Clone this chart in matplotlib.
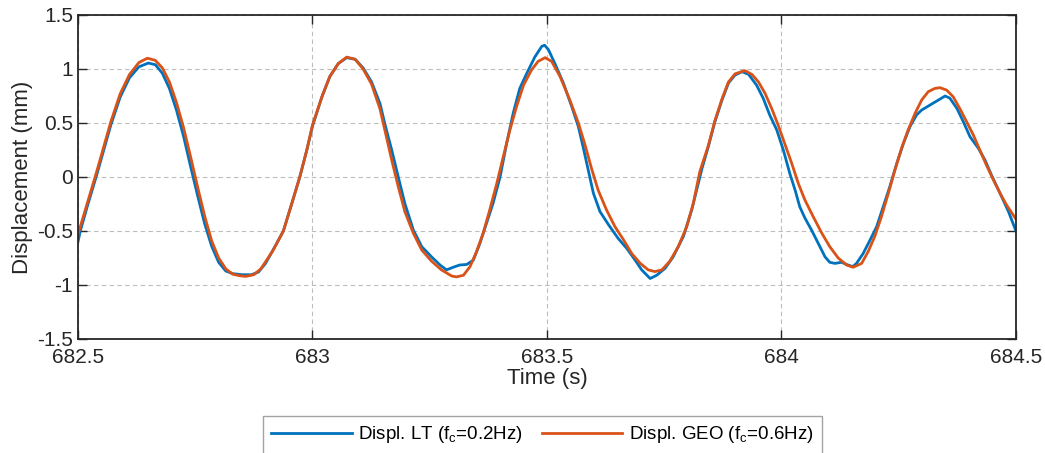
import numpy as np
import matplotlib.pyplot as plt

plt.rcParams['font.family'] = ['Liberation Sans', 'DejaVu Sans']
plt.rcParams['mathtext.fontset'] = 'custom'
plt.rcParams['mathtext.rm'] = 'Liberation Sans'
plt.rcParams['mathtext.it'] = 'Liberation Sans'
plt.rcParams['axes.unicode_minus'] = False

# Displacement from the LT sensor (low-pass fc = 0.2 Hz)
t_lt = [682.500, 682.505, 682.520, 682.540, 682.555, 682.570, 682.590, 682.610, 682.630, 682.650,
        682.665, 682.680, 682.695, 682.710, 682.725, 682.740, 682.755, 682.770, 682.785, 682.800,
        682.815, 682.830, 682.850, 682.870, 682.885, 682.900, 682.916, 682.938, 682.956, 682.973,
        682.988, 683.000, 683.020, 683.037, 683.055, 683.073, 683.091, 683.108, 683.126, 683.144,
        683.155, 683.169, 683.183, 683.197, 683.215, 683.233, 683.254, 683.272, 683.286, 683.300,
        683.314, 683.329, 683.343, 683.357, 683.371, 683.385, 683.400, 683.414, 683.428, 683.442,
        683.457, 683.474, 683.489, 683.495, 683.503, 683.517, 683.535, 683.553, 683.567, 683.577,
        683.588, 683.599, 683.613, 683.631, 683.652, 683.670, 683.688, 683.702, 683.720, 683.734,
        683.752, 683.769, 683.791, 683.809, 683.818, 683.830, 683.844, 683.858, 683.873, 683.887,
        683.901, 683.916, 683.930, 683.947, 683.961, 683.975, 683.990, 684.004, 684.018, 684.029,
        684.039, 684.050, 684.064, 684.078, 684.093, 684.103, 684.114, 684.128, 684.142, 684.152,
        684.160, 684.174, 684.189, 684.203, 684.217, 684.231, 684.246, 684.260, 684.274, 684.288,
        684.299, 684.317, 684.335, 684.349, 684.359, 684.374, 684.388, 684.402, 684.420, 684.434,
        684.448, 684.466, 684.484, 684.500]
d_lt = [-0.60, -0.50, -0.27, 0.02, 0.25, 0.48, 0.74, 0.92, 1.02, 1.055,
        1.04, 0.96, 0.82, 0.62, 0.38, 0.10, -0.17, -0.43, -0.64, -0.79,
        -0.87, -0.895, -0.905, -0.905, -0.88, -0.80, -0.676, -0.50, -0.245, 0.00,
        0.25, 0.47, 0.74, 0.93, 1.05, 1.105, 1.09, 1.01, 0.88, 0.68,
        0.48, 0.25, 0.00, -0.245, -0.49, -0.645, -0.74, -0.815, -0.86, -0.836,
        -0.815, -0.81, -0.77, -0.615, -0.43, -0.245, 0.00, 0.31, 0.59, 0.82,
        0.96, 1.11, 1.21, 1.22, 1.18, 1.05, 0.87, 0.65, 0.466, 0.28,
        0.065, -0.15, -0.32, -0.44, -0.57, -0.66, -0.77, -0.86, -0.94, -0.91,
        -0.845, -0.74, -0.55, -0.30, -0.14, 0.07, 0.28, 0.51, 0.71, 0.87,
        0.944, 0.975, 0.95, 0.85, 0.73, 0.574, 0.435, 0.25, 0.03, -0.12,
        -0.275, -0.38, -0.49, -0.61, -0.74, -0.79, -0.80, -0.79, -0.815, -0.83,
        -0.80, -0.71, -0.583, -0.46, -0.275, -0.09, 0.127, 0.31, 0.466, 0.574,
        0.62, 0.667, 0.713, 0.75, 0.73, 0.636, 0.51, 0.373, 0.265, 0.157,
        0.016, -0.15, -0.32, -0.50]

# Displacement from the geophone (low-pass fc = 0.6 Hz)
t_geo = [682.500, 682.505, 682.520, 682.540, 682.555, 682.570, 682.590, 682.610, 682.630, 682.648,
         682.665, 682.680, 682.695, 682.710, 682.725, 682.740, 682.755, 682.770, 682.785, 682.800,
         682.815, 682.830, 682.845, 682.858, 682.875, 682.890, 682.916, 682.938, 682.956, 682.973,
         682.988, 683.000, 683.020, 683.037, 683.055, 683.073, 683.091, 683.108, 683.126, 683.144,
         683.155, 683.169, 683.183, 683.197, 683.215, 683.233, 683.254, 683.275, 683.297, 683.307,
         683.322, 683.336, 683.350, 683.364, 683.378, 683.393, 683.407, 683.421, 683.435, 683.450,
         683.467, 683.481, 683.496, 683.510, 683.528, 683.549, 683.567, 683.581, 683.595, 683.609,
         683.627, 683.645, 683.663, 683.681, 683.699, 683.716, 683.730, 683.745, 683.762, 683.780,
         683.798, 683.812, 683.826, 683.844, 683.858, 683.873, 683.887, 683.901, 683.922, 683.937,
         683.951, 683.965, 683.979, 683.993, 684.007, 684.022, 684.036, 684.050, 684.068, 684.086,
         684.103, 684.121, 684.139, 684.153, 684.171, 684.185, 684.199, 684.213, 684.228, 684.242,
         684.256, 684.270, 684.285, 684.299, 684.313, 684.327, 684.338, 684.352, 684.366, 684.380,
         684.395, 684.409, 684.423, 684.437, 684.452, 684.466, 684.480, 684.500]
d_geo = [-0.53, -0.46, -0.24, 0.05, 0.28, 0.51, 0.77, 0.95, 1.06, 1.10,
         1.08, 1.01, 0.88, 0.69, 0.46, 0.19, -0.09, -0.36, -0.59, -0.75,
         -0.85, -0.90, -0.915, -0.92, -0.905, -0.85, -0.68, -0.50, -0.245, 0.00,
         0.25, 0.48, 0.74, 0.93, 1.05, 1.11, 1.09, 1.00, 0.86, 0.63,
         0.42, 0.157, -0.09, -0.32, -0.52, -0.676, -0.78, -0.86, -0.917, -0.925,
         -0.91, -0.83, -0.69, -0.52, -0.305, -0.06, 0.19, 0.435, 0.65, 0.85,
         0.99, 1.07, 1.105, 1.07, 0.93, 0.71, 0.50, 0.30, 0.08, -0.12,
         -0.305, -0.46, -0.58, -0.71, -0.80, -0.86, -0.876, -0.86, -0.78, -0.645,
         -0.46, -0.245, 0.05, 0.29, 0.52, 0.72, 0.88, 0.955, 0.985, 0.95,
         0.88, 0.775, 0.636, 0.48, 0.31, 0.125, -0.06, -0.213, -0.37, -0.52,
         -0.645, -0.75, -0.815, -0.836, -0.80, -0.69, -0.55, -0.37, -0.15, 0.065,
         0.265, 0.435, 0.59, 0.713, 0.79, 0.82, 0.827, 0.805, 0.744, 0.636,
         0.51, 0.39, 0.25, 0.11, -0.028, -0.15, -0.26, -0.39]

xticks = [682.5, 683, 683.5, 684, 684.5]
xticklabels = ['682.5', '683', '683.5', '684', '684.5']
yticks = [-1.5, -1, -0.5, 0, 0.5, 1, 1.5]
yticklabels = ['-1.5', '-1', '-0.5', '0', '0.5', '1', '1.5']

fig = plt.figure(figsize=(10.45, 4.53), dpi=100)
ax = fig.add_axes([0.0746, 0.2517, 0.8976, 0.7152])

ax.plot(t_lt, d_lt, color='#0072BD', lw=2.0, solid_joinstyle='round',
        label='Displ. LT (f$_{\\mathrm{c}}$=0.2Hz)')
ax.plot(t_geo, d_geo, color='#D95319', lw=2.0, solid_joinstyle='round',
        label='Displ. GEO (f$_{\\mathrm{c}}$=0.6Hz)')

ax.set_xlim(682.5, 684.5)
ax.set_ylim(-1.5, 1.5)
ax.set_xticks(xticks)
ax.set_xticklabels(xticklabels)
ax.set_yticks(yticks)
ax.set_yticklabels(yticklabels)
ax.grid(True, color='#bdbdbd', linestyle=(0, (4, 3)), lw=0.8)
ax.set_axisbelow(True)

ax.tick_params(direction='in', length=6.5, width=1.0, colors='#262626',
               top=True, right=True, labelsize=15)
ax.tick_params(axis='x', pad=6.5)
ax.tick_params(axis='y', pad=3.5)
for s in ax.spines.values():
    s.set_linewidth(1.3)
    s.set_color('#262626')

ax.set_xlabel('Time (s)', fontsize=16, color='#262626', labelpad=1)
ax.set_ylabel('Displacement (mm)', fontsize=16, color='#262626', labelpad=3)

leg = fig.legend(loc='upper center', bbox_to_anchor=(0.519, 0.0823), ncol=2,
                 fontsize=13.5, frameon=True, fancybox=False, borderaxespad=0,
                 handlelength=4.3, handletextpad=0.35, columnspacing=1.0,
                 borderpad=0.45)
leg.get_frame().set_edgecolor('#8c8c8c')
leg.get_frame().set_linewidth(1.0)

fig.savefig('out.png', dpi=100)
